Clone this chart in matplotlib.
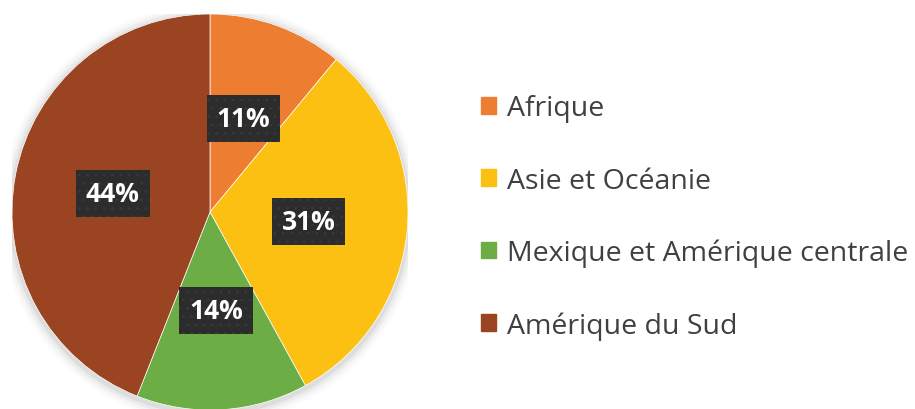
import matplotlib.pyplot as plt
from matplotlib.patches import Patch, Circle

# data
regions = ['Afrique', 'Asie et Océanie', 'Mexique et Amérique centrale', 'Amérique du Sud']
shares = [11, 31, 14, 44]
colors = ['#ED7D31', '#FCC012', '#6CAD46', '#9A4422']

plt.rcParams['font.family'] = ['Open Sans', 'DejaVu Sans']
plt.rcParams['hatch.linewidth'] = 0.6

fig = plt.figure(figsize=(9.15, 4.1), dpi=100)
ax = fig.add_axes([12 / 915, -1 / 410, 396 / 915, 396 / 410])

# soft shadow round the pie
for r, a in [(1.06, 0.015), (1.045, 0.025), (1.03, 0.04), (1.015, 0.06)]:
    ax.add_patch(Circle((0, -0.01), r, color='black', alpha=a, lw=0, zorder=0))

wedges, texts, autotexts = ax.pie(
    shares, colors=colors, startangle=90, counterclock=False,
    autopct='%d%%', pctdistance=0.5, radius=1,
    wedgeprops=dict(linewidth=0.5, edgecolor='white'),
    textprops=dict(color='white', fontsize=19, fontweight='bold'))
for t in autotexts:
    t.set_bbox(dict(boxstyle='square,pad=0.38', fc='#2C2C2C', ec='#3A3A3A',
                    lw=0, hatch='..'))
ax.set_xlim(-1, 1)
ax.set_ylim(-1, 1)
ax.set_aspect('equal')
ax.axis('off')

handles = [Patch(color=c) for c in colors]
fig.legend(handles, regions, loc='center left', bbox_to_anchor=(0.498, 0.468),
           frameon=False, fontsize=20.5, labelcolor='#404040',
           handlelength=0.53, handleheight=0.53, handletextpad=0.38,
           labelspacing=1.55)

fig.savefig('out.png', dpi=100)
